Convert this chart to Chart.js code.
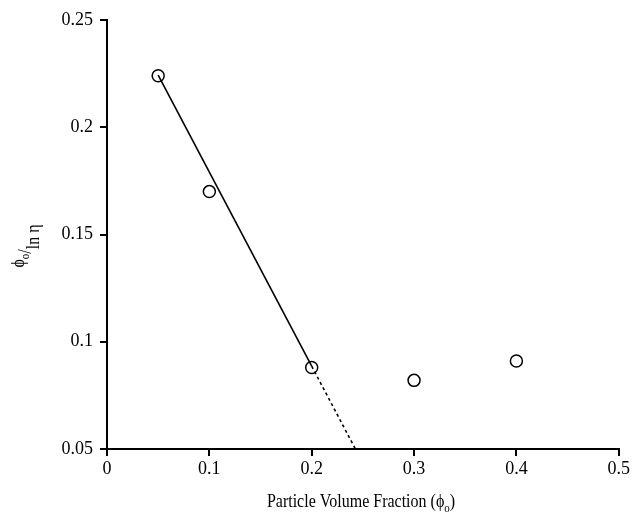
<!DOCTYPE html>
<html>
<head>
<meta charset="utf-8">
<style>
  html, body { margin: 0; padding: 0; background: #fff; }
  #wrap { width: 632px; height: 513px; position: relative; }
</style>
<script src="https://cdn.jsdelivr.net/npm/chart.js@4.4.1/dist/chart.umd.min.js"></script>
</head>
<body>
<div id="wrap"><canvas id="plot" width="632" height="513"></canvas></div>
<script>
// measured points
const phiValues = [0.05, 0.1, 0.2, 0.3, 0.4];
const ratioValues = [0.224, 0.17, 0.088, 0.082, 0.091];

// fitted line, solid part then extrapolated dashed part
const fitSolidX = [0.05, 0.2];
const fitSolidY = [0.2243, 0.0886];
const fitDashX = [0.2, 0.2427];
const fitDashY = [0.0886, 0.05];

const xTicks = [0, 0.1, 0.2, 0.3, 0.4, 0.5];
const yTicks = [0.05, 0.1, 0.15, 0.2, 0.25];

const FONT = '"Liberation Serif", "Times New Roman", serif';

function pairs(xs, ys) {
  return xs.map((x, i) => ({ x: x, y: ys[i] }));
}

function drawParts(c, parts, startX, baseY) {
  let x = startX;
  parts.forEach(p => {
    c.font = p[1];
    c.fillText(p[0], x, baseY + p[2]);
    x += c.measureText(p[0]).width;
  });
}

function partsWidth(c, parts) {
  let w = 0;
  parts.forEach(p => { c.font = p[1]; w += c.measureText(p[0]).width; });
  return w;
}

// axis titles with subscripts
const titlesPlugin = {
  id: 'titles',
  afterDraw(chart) {
    const c = chart.ctx;
    const big = '16px ' + FONT;
    const small = '11px ' + FONT;
    c.save();
    c.fillStyle = '#000';
    c.textBaseline = 'alphabetic';

    // x title, a bit taller like the scan
    const parts = [['Particle Volume Fraction (', big, 0], ['ϕ', big, 0], ['o', small, 4], [')', big, 0]];
    c.save();
    c.translate(0, 507);
    c.scale(1, 1.2);
    drawParts(c, parts, 361 - partsWidth(c, parts) / 2, 0);
    c.restore();

    // y title, rotated, slanted fraction
    c.save();
    c.translate(31, 246);
    c.rotate(-Math.PI / 2);
    c.scale(1, 1.15);
    const yparts = [['ϕ', big, -6], ['o', small, -2], ['/', big, 0], ['ln η', big, 7]];
    drawParts(c, yparts, -partsWidth(c, yparts) / 2, 0);
    c.restore();

    c.restore();
  }
};

const ctx = document.getElementById('plot').getContext('2d');
const chart = new Chart(ctx, {
  type: 'scatter',
  data: {
    datasets: [{
      label: 'fit',
      type: 'line',
      data: pairs(fitSolidX, fitSolidY),
      borderColor: '#000',
      borderWidth: 1.6,
      pointRadius: 0,
      fill: false,
    }, {
      label: 'fit extrapolated',
      type: 'line',
      data: pairs(fitDashX, fitDashY),
      borderColor: '#000',
      borderWidth: 1.6,
      borderDash: [3, 3],
      pointRadius: 0,
      fill: false,
    }, {
      label: 'data',
      data: pairs(phiValues, ratioValues),
      pointStyle: 'circle',
      pointRadius: 6,
      pointBorderWidth: 1.5,
      pointBorderColor: '#000',
      pointBackgroundColor: '#fff',
    }]
  },
  options: {
    responsive: false,
    animation: false,
    layout: { padding: { top: 20, right: 12, left: 0, bottom: 0 } },
    plugins: { legend: { display: false }, tooltip: { enabled: false } },
    scales: {
      x: {
        type: 'linear',
        min: 0, max: 0.5,
        afterBuildTicks: s => { s.ticks = xTicks.map(v => ({ value: v })); },
        afterFit: s => { s.height = 64; },
        border: { color: '#000', width: 2 },
        grid: { drawOnChartArea: false, drawTicks: true, tickLength: 7, color: '#000', lineWidth: 2 },
        ticks: { color: '#000', padding: 2, font: { family: FONT, size: 18 }, callback: v => String(v) }
      },
      y: {
        type: 'linear',
        min: 0.05, max: 0.25,
        afterBuildTicks: s => { s.ticks = yTicks.map(v => ({ value: v })); },
        afterFit: s => { s.width = 107; },
        border: { color: '#000', width: 2 },
        grid: { drawOnChartArea: false, drawTicks: true, tickLength: 7, color: '#000', lineWidth: 2 },
        ticks: { color: '#000', padding: 7, font: { family: FONT, size: 18 }, callback: v => String(v) }
      }
    }
  },
  plugins: [titlesPlugin]
});
</script>
</body>
</html>
